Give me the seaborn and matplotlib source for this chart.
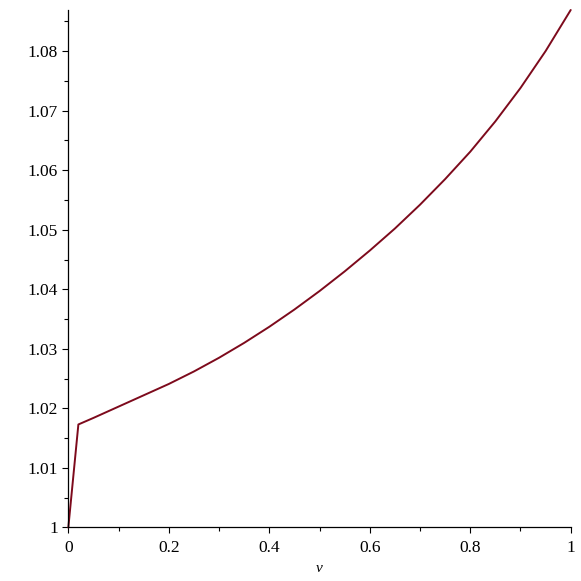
import matplotlib
matplotlib.use("Agg")
import matplotlib.pyplot as plt
import seaborn as sns
import pandas as pd
from matplotlib.ticker import MultipleLocator, FuncFormatter

# values
v_vals = [0, 0.02, 0.05, 0.1, 0.15, 0.2, 0.25, 0.3, 0.35, 0.4, 0.45, 0.5,
          0.55, 0.6, 0.65, 0.7, 0.75, 0.8, 0.85, 0.9, 0.95, 1.0]
f_vals = [1.0, 1.0173, 1.0184, 1.0203, 1.0222, 1.0241, 1.0262, 1.0285,
          1.0310, 1.0337, 1.0366, 1.0397, 1.0430, 1.0465, 1.0502, 1.0542,
          1.0585, 1.0631, 1.0682, 1.0738, 1.0800, 1.0869]

df = pd.DataFrame({"v": v_vals, "f": f_vals})

sns.set_style("ticks")
plt.rcParams["font.family"] = ["Liberation Serif", "DejaVu Serif"]

fig = plt.figure(figsize=(5.81, 5.81), dpi=100)
ax = fig.add_axes([0.1176, 0.0921, 0.8647, 0.8907])

sns.lineplot(data=df, x="v", y="f", ax=ax, color="#7d0a1c", linewidth=1.4)
for ln in ax.lines:
    ln.set_clip_on(False)

ax.set_xlim(0, 1)
ax.set_ylim(1.0, 1.0869)

ax.xaxis.set_major_locator(MultipleLocator(0.2))
ax.xaxis.set_minor_locator(MultipleLocator(0.1))
ax.yaxis.set_major_locator(MultipleLocator(0.01))
ax.yaxis.set_minor_locator(MultipleLocator(0.005))
fmt = FuncFormatter(lambda x, p: "%g" % round(x, 4))
ax.xaxis.set_major_formatter(fmt)
ax.yaxis.set_major_formatter(fmt)

ax.tick_params(which="major", length=4, width=0.8, labelsize=12.5,
               color="black", labelcolor="black")
ax.tick_params(which="minor", length=3, width=0.8, color="black")
ax.tick_params(axis="x", which="major", pad=5)

for s in ["top", "right"]:
    ax.spines[s].set_visible(False)
for s in ["left", "bottom"]:
    ax.spines[s].set_linewidth(0.9)
    ax.spines[s].set_color("black")

ax.set_xlabel("v", fontsize=11, fontstyle="italic", labelpad=4, color="black")
ax.set_ylabel("")

fig.savefig("out.png", dpi=100)
